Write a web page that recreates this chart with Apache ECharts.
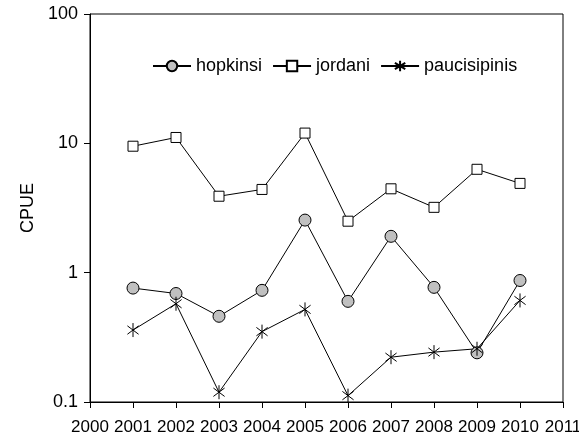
<!DOCTYPE html>
<html>
<head>
<meta charset="utf-8">
<script src="https://cdn.jsdelivr.net/npm/echarts@6/dist/echarts.min.js"></script>
<style>
  html, body { margin: 0; padding: 0; background: #fff; }
  #chart { width: 579px; height: 436px; }
</style>
</head>
<body>
<div id="chart"></div>
<script>
// values (CPUE, log scale)
const years = [2001, 2002, 2003, 2004, 2005, 2006, 2007, 2008, 2009, 2010];
const hopkinsi = [0.76, 0.69, 0.46, 0.73, 2.55, 0.60, 1.91, 0.77, 0.24, 0.87];
const jordani = [9.5, 11.1, 3.9, 4.4, 12.0, 2.5, 4.45, 3.2, 6.3, 4.9];
const paucisipinis = [0.36, 0.575, 0.119, 0.35, 0.52, 0.112, 0.222, 0.243, 0.258, 0.61];

const font = 'Liberation Sans, Arial, sans-serif';
const asterisk = 'path://M50 0 L50 100 M10 20 L90 80 M10 80 L90 20';

const pairs = vals => years.map((y, i) => [y, vals[i]]);

const chart = echarts.init(document.getElementById('chart'));

const lineSeries = (name, vals, symbol, size, fill) => ({
  name: name,
  type: 'line',
  data: pairs(vals),
  symbol: symbol,
  symbolSize: size,
  symbolKeepAspect: true,
  showAllSymbol: true,
  lineStyle: { color: '#000', width: 1 },
  itemStyle: { color: fill, borderColor: '#000', borderWidth: 1, opacity: 1 },
  emphasis: { disabled: true },
  animation: false
});

chart.setOption({
  animation: false,
  grid: {
    left: 90, right: 16, top: 14, bottom: 34,
    outerBoundsMode: 'none',
    show: true, borderColor: '#000', borderWidth: 1
  },
  legend: {
    left: 152, top: 57, padding: 0,
    itemWidth: 38, itemHeight: 13, itemGap: 10,
    textStyle: { fontFamily: font, fontSize: 18, color: '#000' },
    data: ['hopkinsi', 'jordani', 'paucisipinis']
  },
  xAxis: {
    type: 'value',
    min: 2000, max: 2011, interval: 1,
    axisLine: { lineStyle: { color: '#000', width: 1 } },
    axisTick: { length: 6, lineStyle: { color: '#000' } },
    axisLabel: {
      margin: 17,
      fontFamily: 'Liberation Sans Narrow, ' + font,
      fontSize: 17, color: '#000',
      formatter: v => String(v)
    },
    splitLine: { show: false }
  },
  yAxis: {
    type: 'log',
    logBase: 10,
    min: 0.1, max: 100,
    name: 'CPUE',
    nameLocation: 'middle',
    nameGap: 51,
    nameRotate: 90,
    nameTextStyle: { fontFamily: font, fontSize: 18, color: '#000' },
    axisLine: { show: true, lineStyle: { color: '#000', width: 1 } },
    axisTick: { show: true, length: 6, lineStyle: { color: '#000' } },
    minorTick: { show: false },
    axisLabel: {
      margin: 12,
      fontFamily: font, fontSize: 18, color: '#000',
      formatter: v => String(+v.toPrecision(3))
    },
    splitLine: { show: false }
  },
  series: [
    lineSeries('hopkinsi', hopkinsi, 'circle', 12, '#c0c0c0'),
    lineSeries('jordani', jordani, 'rect', 10, '#fff'),
    lineSeries('paucisipinis', paucisipinis, asterisk, 14, '#000')
  ]
});
</script>
</body>
</html>
